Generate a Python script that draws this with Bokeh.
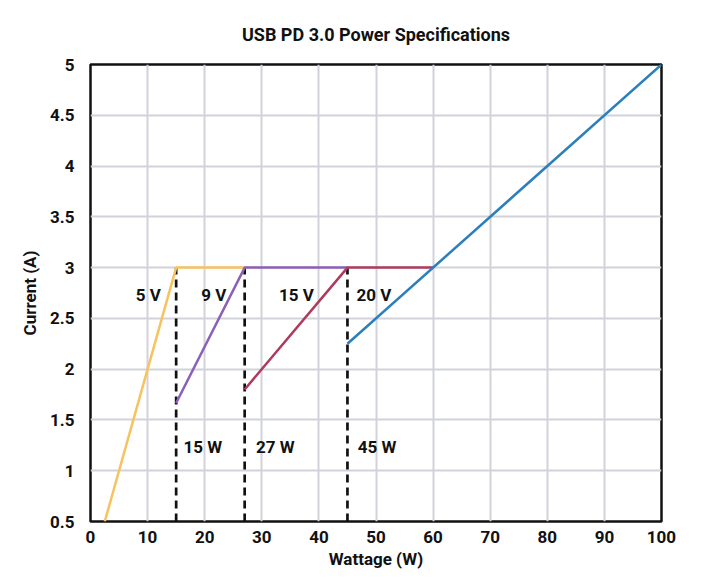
from bokeh.plotting import figure
from bokeh.models import Range1d, FixedTicker, ColumnDataSource
from bokeh.core.properties import value
from bokeh.embed import file_html
from bokeh.resources import INLINE

# Data
v5_w = [2.5, 15, 27]
v5_a = [0.5, 3.0, 3.0]
v9_w = [15, 27, 45]
v9_a = [1.667, 3.0, 3.0]
v15_w = [27, 45, 60]
v15_a = [1.8, 3.0, 3.0]
v20_w = [45, 100]
v20_a = [2.25, 5.0]

limit_w = [15, 27, 45]
limit_bottom = [0.5, 0.5, 0.5]
limit_top = [3.0, 3.0, 3.0]

volt_labels = ["5 V", "9 V", "15 V", "20 V"]
volt_x = [12.3, 23.8, 39.1, 46.6]
volt_y = [2.73, 2.73, 2.73, 2.73]
volt_align = ["right", "right", "right", "left"]

watt_labels = ["15 W", "27 W", "45 W"]
watt_x = [16.3, 29.0, 46.8]
watt_y = [1.23, 1.23, 1.23]

x_ticks = [0, 10, 20, 30, 40, 50, 60, 70, 80, 90, 100]
y_ticks = [0.5, 1, 1.5, 2, 2.5, 3, 3.5, 4, 4.5, 5]
y_tick_labels = ["0.5", "1", "1.5", "2", "2.5", "3", "3.5", "4", "4.5", "5"]

FONT = "Roboto"

p = figure(width=707, height=579, output_backend="svg", toolbar_location=None,
           x_range=Range1d(0, 100), y_range=Range1d(0.5, 5),
           title="USB PD 3.0 Power Specifications",
           min_border_left=90, min_border_right=46, min_border_top=64, min_border_bottom=58)

p.title.align = "center"
p.title.text_font = FONT
p.title.text_font_style = "bold"
p.title.text_font_size = "18px"
p.title.text_color = "#111111"
p.title.standoff = 40

p.outline_line_color = "#111111"
p.outline_line_width = 2.5
p.outline_line_alpha = 1

for ax in (p.xaxis[0], p.yaxis[0]):
    ax.axis_line_color = None
    ax.major_tick_line_color = None
    ax.minor_tick_line_color = None
    ax.major_label_text_font = FONT
    ax.major_label_text_font_style = "bold"
    ax.major_label_text_font_size = "17px"
    ax.major_label_text_color = "#111111"
    ax.axis_label_text_font = FONT
    ax.axis_label_text_font_style = "bold"
    ax.axis_label_text_font_size = "17px"
    ax.axis_label_text_color = "#111111"

p.xaxis.ticker = FixedTicker(ticks=x_ticks)
p.yaxis.ticker = FixedTicker(ticks=y_ticks)
p.yaxis.major_label_overrides = {t: l for t, l in zip(y_ticks, y_tick_labels)}
p.xaxis.axis_label = "Wattage (W)"
p.yaxis.axis_label = "Current (A)"
p.xaxis.major_label_standoff = 3
p.yaxis.major_label_standoff = 10
p.xaxis.axis_label_standoff = 3
p.yaxis.axis_label_standoff = 7

p.grid.grid_line_color = "#d2d3da"
p.grid.grid_line_width = 2

p.segment(x0=limit_w, y0=limit_bottom, x1=limit_w, y1=limit_top,
          line_color="#111111", line_width=2.7, line_dash="8 5")

p.line(v5_w, v5_a, line_color="#F8C25F", line_width=2.5)
p.line(v9_w, v9_a, line_color="#8C60B6", line_width=2.5)
p.line(v15_w, v15_a, line_color="#B03A5C", line_width=2.5)
p.line(v20_w, v20_a, line_color="#2A7FBC", line_width=2.5)

vsrc = ColumnDataSource(dict(x=volt_x, y=volt_y, t=volt_labels, a=volt_align))
p.text(x="x", y="y", text="t", text_align="a", text_baseline="middle", source=vsrc,
       text_font=value(FONT), text_font_style="bold", text_font_size="17px", text_color="#111111")

wsrc = ColumnDataSource(dict(x=watt_x, y=watt_y, t=watt_labels))
p.text(x="x", y="y", text="t", text_align="left", text_baseline="middle", source=wsrc,
       text_font=value(FONT), text_font_style="bold", text_font_size="17px", text_color="#111111")

open("out.html", "w").write(file_html(p, INLINE))
